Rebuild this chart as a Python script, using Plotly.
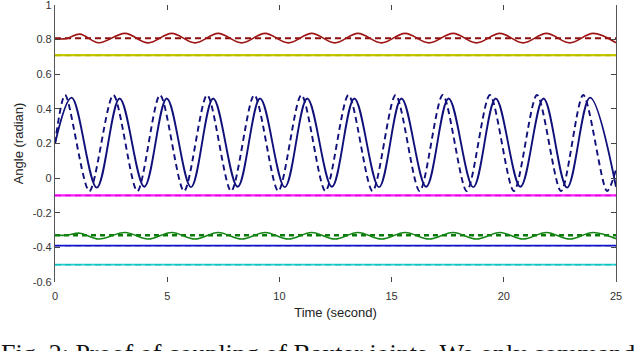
import plotly.graph_objects as go

# ---- data ----
t_span = [0, 25]

red_t = [0, 0.5, 1.11, 1.95, 3.12, 4.15, 5.2, 6.24, 7.27, 8.32, 9.36, 10.4, 11.44,
         12.47, 13.5, 14.55, 15.6, 16.67, 17.74, 18.78, 19.83, 20.86, 21.9, 22.94, 23.98, 25]
red_actual = [0.805, 0.806, 0.832, 0.782, 0.836, 0.781, 0.836, 0.781, 0.836, 0.781, 0.836,
              0.781, 0.836, 0.781, 0.836, 0.781, 0.836, 0.781, 0.836, 0.781, 0.836, 0.781,
              0.836, 0.781, 0.836, 0.782]
red_cmd = [0.808, 0.808]

yellow_actual = [0.71, 0.71]
yellow_cmd = [0.708, 0.708]

blue_t = [0, 0.74, 1.86, 2.88, 3.98, 4.98, 6.06, 7.05, 8.14, 9.14, 10.24, 11.24, 12.34,
          13.34, 14.44, 15.44, 16.54, 17.54, 18.64, 19.64, 20.74, 21.77, 22.82, 23.84, 25]
blue_actual = [0.20, 0.465, -0.055, 0.46, -0.05, 0.46, -0.052, 0.46, -0.05, 0.46, -0.052,
               0.46, -0.05, 0.46, -0.052, 0.46, -0.05, 0.46, -0.052, 0.46, -0.05, 0.46,
               -0.055, 0.465, -0.05]

blue_cmd_t = [0, 0.45, 1.53, 2.6, 3.67, 4.68, 5.75, 6.78, 7.85, 8.88, 9.95, 10.98, 12.05,
              13.08, 14.15, 15.18, 16.25, 17.28, 18.35, 19.38, 20.45, 21.48, 22.55, 23.54,
              24.6, 25]
blue_cmd = [0.20, 0.48, -0.075, 0.48, -0.075, 0.48, -0.075, 0.48, -0.075, 0.48, -0.075,
            0.48, -0.075, 0.48, -0.075, 0.48, -0.075, 0.48, -0.075, 0.48, -0.075, 0.48,
            -0.075, 0.48, -0.075, 0.05]

magenta_actual = [-0.1, -0.1]
magenta_cmd = [-0.1, -0.1]

green_t = red_t
green_actual = [-0.33, -0.33, -0.318, -0.352, -0.314, -0.352, -0.314, -0.352, -0.314,
                -0.352, -0.314, -0.352, -0.314, -0.352, -0.314, -0.352, -0.314, -0.352,
                -0.314, -0.352, -0.314, -0.352, -0.314, -0.352, -0.314, -0.35]
green_cmd = [-0.33, -0.33]

navy2_actual = [-0.39, -0.39]
navy2_cmd = [-0.39, -0.39]

cyan_actual = [-0.5, -0.5]
cyan_cmd = [-0.5, -0.5]

y_ticks = [1, 0.8, 0.6, 0.4, 0.2, 0, -0.2, -0.4, -0.6]
y_tick_text = ["1", "0.8", "0.6", "0.4", "0.2", "0", "-0.2", "-0.4", "-0.6"]
x_ticks = [0, 5, 10, 15, 20, 25]

caption = "Fig. 2: Proof of coupling of Baxter joints. We only command"

DASH = "6px,4px"

fig = go.Figure()

def add(x, y, color, width, dash=None, smooth=None):
    line = dict(color=color, width=width)
    if dash:
        line["dash"] = dash
    if smooth is not None:
        line["shape"] = "spline"
        line["smoothing"] = smooth
    fig.add_trace(go.Scatter(x=x, y=y, mode="lines", line=line, showlegend=False,
                             hoverinfo="skip"))

# constant joints
add(t_span, yellow_actual, "#C8C800", 2.2)
add(t_span, yellow_cmd, "#B8B800", 1.6, DASH)
add(t_span, magenta_actual, "#FF1EFF", 2.2)
add(t_span, magenta_cmd, "#E000E0", 1.6, DASH)
add(t_span, navy2_actual, "#1515D0", 1.8)
add(t_span, navy2_cmd, "#1010C0", 1.4, DASH)
add(t_span, cyan_actual, "#20D0D0", 1.8)
add(t_span, cyan_cmd, "#10C0C0", 1.4, DASH)

# red joint
add(t_span, red_cmd, "#8E0E0E", 1.8, DASH)
add(red_t, red_actual, "#9E1515", 1.6, smooth=1.0)

# green joint
add(t_span, green_cmd, "#0A7A0A", 2.6, "5px,4px")
add(green_t, green_actual, "#158515", 1.6, smooth=1.0)

# big oscillating joint
add(blue_cmd_t, blue_cmd, "#10107A", 1.9, DASH, smooth=0.8)
add(blue_t, blue_actual, "#10107A", 1.9, smooth=1.0)

fig.add_annotation(text=caption, xref="paper", yref="paper", x=-0.1, y=-0.2,
                   xanchor="left", yanchor="top", showarrow=False,
                   font=dict(family="Liberation Serif, Times New Roman, serif", size=26,
                             color="#111"))

axis_font = dict(family="Liberation Sans, Arial", size=11, color="#333")
fig.update_layout(
    width=640, height=351,
    margin=dict(l=55, r=24, t=5, b=69),
    paper_bgcolor="white", plot_bgcolor="white",
    xaxis=dict(range=[0, 25], tickvals=x_ticks, ticks="inside", ticklen=5,
               tickcolor="#444", showline=True, linecolor="rgba(0,0,0,0)",
               mirror="ticks", showgrid=False, zeroline=False, automargin=False,
               tickfont=axis_font, ticklabelstandoff=4, ticklabeloverflow="allow",
               title=dict(text="Time (second)", font=dict(family="Liberation Sans, Arial",
                                                          size=13, color="#222"),
                          standoff=6)),
    yaxis=dict(range=[-0.6, 1], tickvals=y_ticks, ticktext=y_tick_text, ticks="inside",
               ticklen=5, tickcolor="#444", showline=True, linecolor="#555",
               linewidth=1.2, mirror="ticks", showgrid=False, zeroline=False,
               automargin=False, tickfont=axis_font, ticklabeloverflow="allow",
               title=dict(text="Angle (radian)", font=dict(family="Liberation Sans, Arial",
                                                           size=13, color="#222"),
                          standoff=6)),
)

fig.write_html("out.html", config={"displayModeBar": False},
               post_script="document.body.style.margin='0';"
                           "document.body.style.overflow='hidden';")
